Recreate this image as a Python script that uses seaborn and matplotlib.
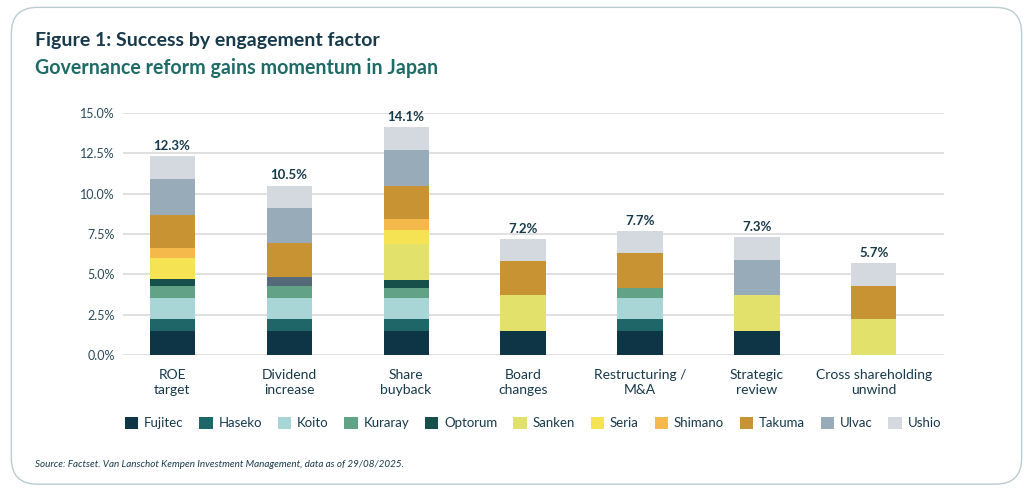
import numpy as np
import pandas as pd
import matplotlib
matplotlib.use("Agg")
import matplotlib.pyplot as plt
from matplotlib.patches import FancyBboxPatch, Patch
import seaborn as sns

categories = ["ROE\ntarget", "Dividend\nincrease", "Share\nbuyback", "Board\nchanges",
              "Restructuring /\nM&A", "Strategic\nreview", "Cross shareholding\nunwind"]

fujitec = [1.5, 1.5, 1.5, 1.5, 1.5, 1.5, 0.0]
haseko  = [0.7, 0.7, 0.7, 0.0, 0.7, 0.0, 0.0]
koito   = [1.35, 1.35, 1.35, 0.0, 1.35, 0.0, 0.0]
kuraray = [0.7, 0.7, 0.6, 0.0, 0.6, 0.0, 0.0]
optorum = [0.45, 0.0, 0.5, 0.0, 0.0, 0.0, 0.0]
other   = [0.0, 0.55, 0.0, 0.0, 0.0, 0.0, 0.0]
sanken  = [0.0, 0.0, 2.2, 2.2, 0.0, 2.2, 2.2]
seria   = [1.3, 0.0, 0.9, 0.0, 0.0, 0.0, 0.0]
shimano = [0.6, 0.0, 0.7, 0.0, 0.0, 0.0, 0.0]
takuma  = [2.1, 2.15, 2.05, 2.1, 2.15, 0.0, 2.1]
ulvac   = [2.2, 2.15, 2.2, 0.0, 0.0, 2.2, 0.0]
ushio   = [1.4, 1.4, 1.4, 1.4, 1.4, 1.4, 1.4]

series_names = ["Fujitec", "Haseko", "Koito", "Kuraray", "Optorum", "Other",
                "Sanken", "Seria", "Shimano", "Takuma", "Ulvac", "Ushio"]
series_vals = [fujitec, haseko, koito, kuraray, optorum, other,
               sanken, seria, shimano, takuma, ulvac, ushio]
colors = {
    "Fujitec": "#0e3546", "Haseko": "#1f6669", "Koito": "#a8d5d5",
    "Kuraray": "#62a287", "Optorum": "#17504a", "Other": "#546a7b",
    "Sanken": "#e2e16c", "Seria": "#f5e354", "Shimano": "#f5b84a",
    "Takuma": "#c89332", "Ulvac": "#97abb8", "Ushio": "#d3d9df",
}
legend_names = ["Fujitec", "Haseko", "Koito", "Kuraray", "Optorum", "Sanken",
                "Seria", "Shimano", "Takuma", "Ulvac", "Ushio"]

sns.set_theme(style="white")
plt.rcParams['font.family'] = ['Lato', 'DejaVu Sans']

dark = "#16394b"
fig = plt.figure(figsize=(10.33, 4.93), dpi=100)
ax = fig.add_axes([0.119, 0.280, 0.795, 0.491])

bottom = np.zeros(len(categories))
for name, vals in zip(series_names, series_vals):
    df = pd.DataFrame({"cat": categories, "val": vals})
    sns.barplot(data=df, x="cat", y="val", order=categories, color=colors[name],
                bottom=bottom.copy(), width=0.385, errorbar=None, ax=ax,
                saturation=1, linewidth=0)
    bottom += np.array(vals)

for i, tot in enumerate(bottom):
    ax.text(i, tot + 0.25, f"{tot:.1f}%", ha="center", va="bottom",
            fontsize=9.5, fontweight="bold", color=dark)

ax.set_xlim(-0.42, 6.6)
ax.set_ylim(0, 15)
ax.set_yticks(np.arange(0, 15.1, 2.5))
ax.set_yticklabels([f"{v:.1f}%" for v in np.arange(0, 15.1, 2.5)])
ax.yaxis.grid(True, color="#dadada", linewidth=1.2)
ax.set_axisbelow(True)
for s in ax.spines.values():
    s.set_visible(False)
ax.set_xlabel("")
ax.set_ylabel("")
ax.tick_params(axis="y", labelsize=9, colors="#2a4a5a", length=0, pad=6)
ax.tick_params(axis="x", labelsize=10, colors=dark, length=0, pad=10)
for lbl in ax.get_xticklabels():
    lbl.set_linespacing(1.35)

handles = [Patch(facecolor=colors[n], edgecolor="none", label=n) for n in legend_names]
fig.legend(handles=handles, loc="center", bbox_to_anchor=(0.516, 0.142), ncol=11,
           frameon=False, fontsize=9.5, handlelength=1.0, handleheight=1.0,
           columnspacing=1.2, handletextpad=0.45, labelcolor=dark)

fig.text(0.034, 0.918, "Figure 1: Success by engagement factor", fontsize=14,
         fontweight="bold", color=dark, va="center", ha="left")
fig.text(0.034, 0.862, "Governance reform gains momentum in Japan", fontsize=14.1,
         fontweight="bold", color="#1f6b67", va="center", ha="left")
fig.text(0.034, 0.057, "Source: Factset. Van Lanschot Kempen Investment Management, data as of 29/08/2025.",
         fontsize=7.1, style="italic", color=dark, va="center", ha="left")

box = FancyBboxPatch((0.011, 0.018), 0.978, 0.967, boxstyle="round,pad=0,rounding_size=0.025",
                     transform=fig.transFigure, facecolor="none", edgecolor="#b9cbd3",
                     linewidth=1.0, mutation_aspect=2.1)
fig.patches.append(box)

fig.savefig("out.png", dpi=100, facecolor="white")
